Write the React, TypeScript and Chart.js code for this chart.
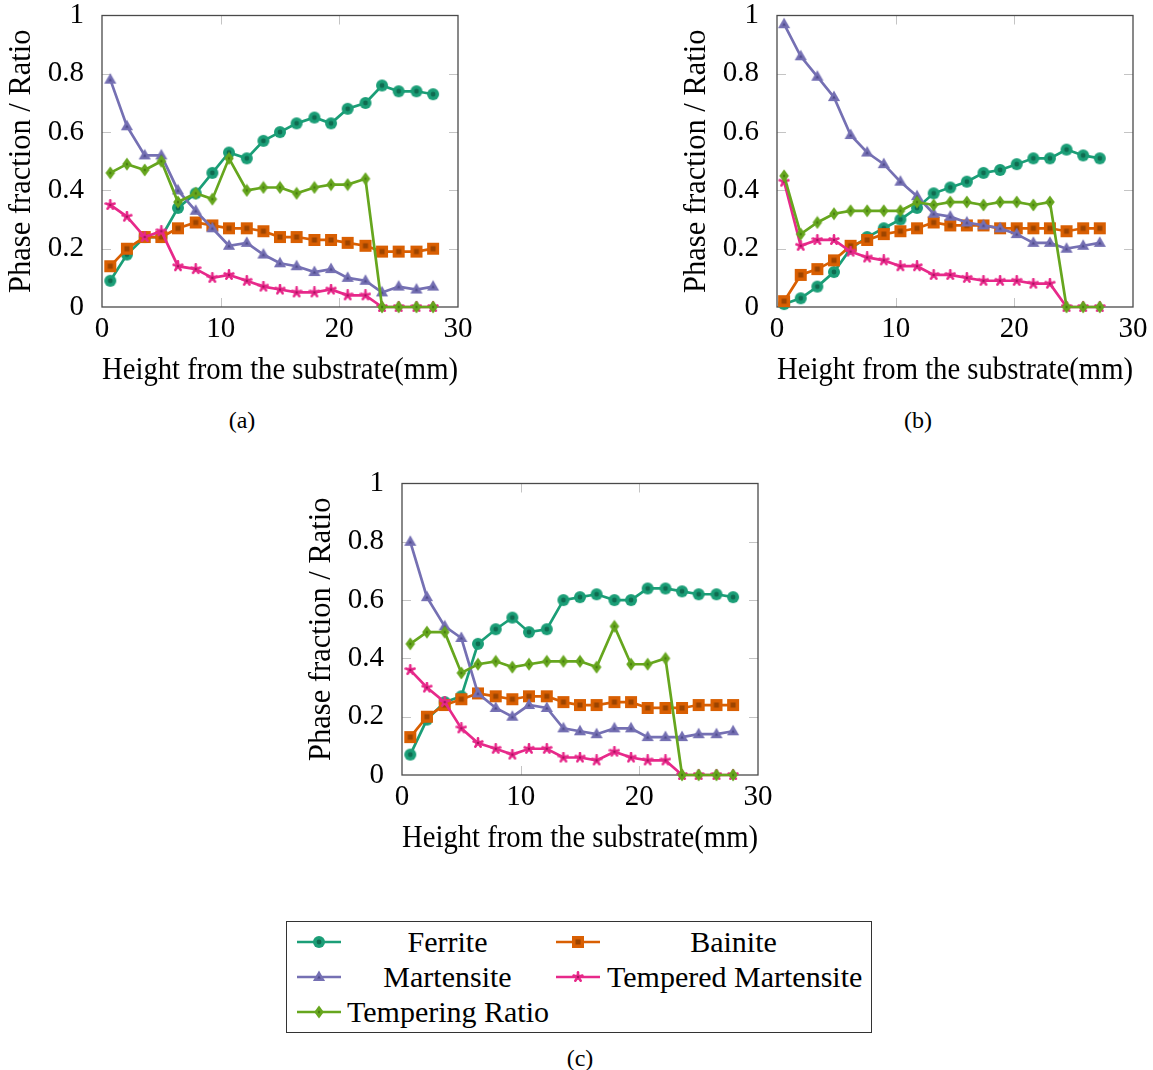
import React, { useEffect, useRef } from "react";
import { Chart, registerables } from "chart.js";

Chart.register(...registerables);

// ---------------- data ----------------
const heightsA = [0.7, 2.1, 3.6, 5.0, 6.4, 7.9, 9.3, 10.7, 12.2, 13.6, 15.0, 16.4, 17.9, 19.3, 20.7, 22.2, 23.6, 25.0, 26.5, 27.9];
const ferriteA = [0.09, 0.18, 0.24, 0.24, 0.34, 0.39, 0.46, 0.53, 0.51, 0.57, 0.60, 0.63, 0.65, 0.63, 0.68, 0.70, 0.76, 0.74, 0.74, 0.73];
const bainiteA = [0.14, 0.20, 0.24, 0.24, 0.27, 0.29, 0.28, 0.27, 0.27, 0.26, 0.24, 0.24, 0.23, 0.23, 0.22, 0.21, 0.19, 0.19, 0.19, 0.20];
const martensiteA = [0.78, 0.62, 0.52, 0.52, 0.40, 0.33, 0.27, 0.21, 0.22, 0.18, 0.15, 0.14, 0.12, 0.13, 0.10, 0.09, 0.05, 0.07, 0.06, 0.07];
const temperedA = [0.35, 0.31, 0.24, 0.26, 0.14, 0.13, 0.10, 0.11, 0.09, 0.07, 0.06, 0.05, 0.05, 0.06, 0.04, 0.04, 0, 0, 0, 0];
const ratioA = [0.46, 0.49, 0.47, 0.50, 0.36, 0.39, 0.37, 0.51, 0.40, 0.41, 0.41, 0.39, 0.41, 0.42, 0.42, 0.44, 0, 0, 0, 0];

const heightsB = [0.6, 2.0, 3.4, 4.8, 6.2, 7.6, 9.0, 10.4, 11.8, 13.2, 14.6, 16.0, 17.4, 18.8, 20.2, 21.6, 23.0, 24.4, 25.8, 27.2];
const ferriteB = [0.01, 0.03, 0.07, 0.12, 0.20, 0.24, 0.27, 0.30, 0.34, 0.39, 0.41, 0.43, 0.46, 0.47, 0.49, 0.51, 0.51, 0.54, 0.52, 0.51];
const bainiteB = [0.02, 0.11, 0.13, 0.16, 0.21, 0.23, 0.25, 0.26, 0.27, 0.29, 0.28, 0.28, 0.28, 0.27, 0.27, 0.27, 0.27, 0.26, 0.27, 0.27];
const martensiteB = [0.97, 0.86, 0.79, 0.72, 0.59, 0.53, 0.49, 0.43, 0.38, 0.32, 0.31, 0.29, 0.28, 0.27, 0.25, 0.22, 0.22, 0.20, 0.21, 0.22];
const temperedB = [0.43, 0.21, 0.23, 0.23, 0.19, 0.17, 0.16, 0.14, 0.14, 0.11, 0.11, 0.10, 0.09, 0.09, 0.09, 0.08, 0.08, 0, 0, 0];
const ratioB = [0.45, 0.25, 0.29, 0.32, 0.33, 0.33, 0.33, 0.33, 0.36, 0.35, 0.36, 0.36, 0.35, 0.36, 0.36, 0.35, 0.36, 0, 0, 0];

const heightsC = [0.7, 2.1, 3.6, 5.0, 6.4, 7.9, 9.3, 10.7, 12.2, 13.6, 15.0, 16.4, 17.9, 19.3, 20.7, 22.2, 23.6, 25.0, 26.5, 27.9];
const ferriteC = [0.07, 0.19, 0.25, 0.27, 0.45, 0.50, 0.54, 0.49, 0.50, 0.60, 0.61, 0.62, 0.60, 0.60, 0.64, 0.64, 0.63, 0.62, 0.62, 0.61];
const bainiteC = [0.13, 0.20, 0.24, 0.26, 0.28, 0.27, 0.26, 0.27, 0.27, 0.25, 0.24, 0.24, 0.25, 0.25, 0.23, 0.23, 0.23, 0.24, 0.24, 0.24];
const martensiteC = [0.80, 0.61, 0.51, 0.47, 0.28, 0.23, 0.20, 0.24, 0.23, 0.16, 0.15, 0.14, 0.16, 0.16, 0.13, 0.13, 0.13, 0.14, 0.14, 0.15];
const temperedC = [0.36, 0.30, 0.25, 0.16, 0.11, 0.09, 0.07, 0.09, 0.09, 0.06, 0.06, 0.05, 0.08, 0.06, 0.05, 0.05, 0, 0, 0, 0];
const ratioC = [0.45, 0.49, 0.49, 0.35, 0.38, 0.39, 0.37, 0.38, 0.39, 0.39, 0.39, 0.37, 0.51, 0.38, 0.38, 0.40, 0, 0, 0, 0];

const seriesLabels = ["Ferrite", "Bainite", "Martensite", "Tempered Martensite", "Tempering Ratio"];
const xTickValues = [0, 10, 20, 30];
const yTickValues = [0, 0.2, 0.4, 0.6, 0.8, 1];
const xTitle = "Height from the substrate(mm)";
const yTitle = "Phase fraction / Ratio";

// ---------------- styles ----------------
const FONT = "'Liberation Serif', 'Times New Roman', serif";
const STYLES = [
  { kind: "circle", color: "#1b9e77", dark: "#0f6b50", order: 4 },
  { kind: "square", color: "#d95f02", dark: "#9c4400", order: 3 },
  { kind: "triangle", color: "#7570b3", dark: "#4f4a8c", order: 2 },
  { kind: "star", color: "#e7298a", dark: "#a8135f", order: 1 },
  { kind: "diamond", color: "#66a61e", dark: "#437510", order: 0 },
];

function makeMarker(kind: string, color: string, dark: string): HTMLCanvasElement {
  const c = document.createElement("canvas");
  let ctx: CanvasRenderingContext2D;
  if (kind === "circle") {
    c.width = 14; c.height = 14;
    ctx = c.getContext("2d")!;
    ctx.fillStyle = color;
    ctx.beginPath(); ctx.arc(7, 7, 6, 0, Math.PI * 2); ctx.fill();
    ctx.fillStyle = dark;
    ctx.beginPath(); ctx.arc(7, 7, 2.4, 0, Math.PI * 2); ctx.fill();
  } else if (kind === "square") {
    c.width = 14; c.height = 14;
    ctx = c.getContext("2d")!;
    ctx.fillStyle = color;
    ctx.fillRect(1, 1, 12, 12);
    ctx.fillStyle = dark;
    ctx.fillRect(4.5, 4.5, 5, 5);
  } else if (kind === "triangle") {
    c.width = 16; c.height = 16;
    ctx = c.getContext("2d")!;
    const cx = 8, cy = 8.5, r = 7;
    const pts = [0, 1, 2].map((i) => {
      const a = -Math.PI / 2 + (i * 2 * Math.PI) / 3;
      return [cx + r * Math.cos(a), cy + r * Math.sin(a)];
    });
    ctx.fillStyle = color;
    ctx.beginPath(); ctx.moveTo(pts[0][0], pts[0][1]); ctx.lineTo(pts[1][0], pts[1][1]); ctx.lineTo(pts[2][0], pts[2][1]); ctx.closePath(); ctx.fill();
    ctx.fillStyle = dark;
    const s = 0.3;
    ctx.beginPath();
    pts.forEach((p, i) => {
      const px = cx + (p[0] - cx) * s, py = cy + (p[1] - cy) * s;
      if (i === 0) ctx.moveTo(px, py); else ctx.lineTo(px, py);
    });
    ctx.closePath(); ctx.fill();
  } else if (kind === "diamond") {
    c.width = 12; c.height = 14;
    ctx = c.getContext("2d")!;
    ctx.fillStyle = color;
    ctx.beginPath(); ctx.moveTo(6, 0.5); ctx.lineTo(10.8, 7); ctx.lineTo(6, 13.5); ctx.lineTo(1.2, 7); ctx.closePath(); ctx.fill();
    ctx.fillStyle = dark;
    ctx.beginPath(); ctx.moveTo(6, 5.3); ctx.lineTo(7.2, 7); ctx.lineTo(6, 8.7); ctx.lineTo(4.8, 7); ctx.closePath(); ctx.fill();
  } else {
    c.width = 12; c.height = 12;
    ctx = c.getContext("2d")!;
    ctx.strokeStyle = color;
    ctx.lineWidth = 2.6;
    ctx.lineCap = "round";
    for (let i = 0; i < 5; i++) {
      const a = -Math.PI / 2 + (i * 2 * Math.PI) / 5;
      ctx.beginPath(); ctx.moveTo(6, 6); ctx.lineTo(6 + 4.6 * Math.cos(a), 6 + 4.6 * Math.sin(a)); ctx.stroke();
    }
    ctx.fillStyle = color;
    ctx.beginPath(); ctx.arc(6, 6, 2.8, 0, Math.PI * 2); ctx.fill();
    ctx.fillStyle = dark;
    ctx.beginPath(); ctx.arc(6, 6, 1.3, 0, Math.PI * 2); ctx.fill();
  }
  return c;
}

const framePlugin = {
  id: "pgfFrame",
  beforeDatasetsDraw(chart: any) {
    const { ctx, chartArea: a, scales } = chart;
    const x = scales.x, y = scales.y;
    ctx.save();
    ctx.strokeStyle = "#c4c4c4";
    ctx.lineWidth = 1;
    const L = 9;
    xTickValues.slice(1, -1).forEach((v) => {
      const px = Math.round(x.getPixelForValue(v)) + 0.5;
      ctx.beginPath(); ctx.moveTo(px, a.top); ctx.lineTo(px, a.top + L); ctx.stroke();
      ctx.beginPath(); ctx.moveTo(px, a.bottom); ctx.lineTo(px, a.bottom - L); ctx.stroke();
    });
    yTickValues.slice(1, -1).forEach((v) => {
      const py = Math.round(y.getPixelForValue(v)) + 0.5;
      ctx.beginPath(); ctx.moveTo(a.left, py); ctx.lineTo(a.left + L, py); ctx.stroke();
      ctx.beginPath(); ctx.moveTo(a.right, py); ctx.lineTo(a.right - L, py); ctx.stroke();
    });
    ctx.strokeStyle = "#4a4a4a";
    ctx.lineWidth = 1.3;
    ctx.strokeRect(a.left, a.top, a.right - a.left, a.bottom - a.top);
    ctx.restore();
  },
};

type PanelProps = {
  heights: number[];
  series: number[][];
  left: number;
  top: number;
};

function Panel({ heights, series, left, top }: PanelProps) {
  const ref = useRef<HTMLCanvasElement>(null);
  useEffect(() => {
    const datasets = series.map((vals, si) => {
      const st = STYLES[si];
      return {
        label: seriesLabels[si],
        data: heights.map((h, i) => ({ x: h, y: vals[i] })),
        borderColor: st.color,
        backgroundColor: st.color,
        borderWidth: 2.7,
        pointStyle: makeMarker(st.kind, st.color, st.dark),
        pointRadius: 6,
        pointHoverRadius: 6,
        tension: 0,
        order: st.order,
        clip: false,
      };
    });
    const tickFont = { family: FONT, size: 29, lineHeight: "31px" };
    const titleFont = { family: FONT, size: 30.5 };
    const chart = new Chart(ref.current!, {
      type: "line",
      data: { datasets } as any,
      plugins: [framePlugin],
      options: {
        responsive: false,
        animation: false,
        events: [],
        layout: { padding: { left: 0, right: 22, top: 15.5, bottom: 0 } },
        plugins: { legend: { display: false }, tooltip: { enabled: false } },
        scales: {
          x: {
            type: "linear",
            min: 0,
            max: 30,
            afterFit: (s: any) => { s.height = 93; s.paddingTop = 0; s.paddingBottom = 0; },
            afterBuildTicks: (s: any) => { s.ticks = xTickValues.map((v) => ({ value: v })); },
            ticks: { font: tickFont, color: "#000", padding: 7, maxRotation: 0, autoSkip: false },
            grid: { display: false, drawTicks: false, tickLength: 0 },
            border: { display: false },
            title: { display: true, text: xTitle, font: titleFont, color: "#000", padding: { top: 0, bottom: 11 } },
          },
          y: {
            type: "linear",
            min: 0,
            max: 1,
            afterFit: (s: any) => { s.width = 102; s.paddingTop = 0; s.paddingBottom = 0; },
            afterBuildTicks: (s: any) => { s.ticks = yTickValues.map((v) => ({ value: v })); },
            ticks: {
              font: tickFont,
              color: "#000",
              padding: 18,
              callback: (v: any) => String(Math.round(Number(v) * 10) / 10),
            },
            grid: { display: false, drawTicks: false, tickLength: 0 },
            border: { display: false },
            title: { display: true, text: yTitle, font: titleFont, color: "#000", padding: { top: 4, bottom: 0 } },
          },
        },
      } as any,
    });
    return () => chart.destroy();
  }, []);
  return (
    <canvas
      ref={ref}
      width={480}
      height={400}
      style={{ position: "absolute", left, top, width: 480, height: 400 }}
    />
  );
}

function Swatch({ index, left, top }: { index: number; left: number; top: number }) {
  const ref = useRef<HTMLCanvasElement>(null);
  useEffect(() => {
    const c = ref.current!;
    const ctx = c.getContext("2d")!;
    const st = STYLES[index];
    ctx.clearRect(0, 0, c.width, c.height);
    ctx.strokeStyle = st.color;
    ctx.lineWidth = 2.7;
    ctx.beginPath(); ctx.moveTo(0, 10); ctx.lineTo(44, 10); ctx.stroke();
    const m = makeMarker(st.kind, st.color, st.dark);
    ctx.drawImage(m, 22 - m.width / 2, 10 - m.height / 2);
  }, []);
  return <canvas ref={ref} width={44} height={20} style={{ position: "absolute", left, top, width: 44, height: 20 }} />;
}

const textStyle: React.CSSProperties = {
  position: "absolute",
  fontFamily: FONT,
  fontSize: 30,
  lineHeight: "34px",
  color: "#000",
  textAlign: "center",
  whiteSpace: "nowrap",
};

export default function App() {
  // legend layout: [series index, column, row]
  const legendCells: [number, number, number][] = [
    [0, 0, 0],
    [1, 1, 0],
    [2, 0, 1],
    [3, 1, 1],
    [4, 0, 2],
  ];
  const colSwatchX = [297, 556];
  const colTextX = [347, 607];
  const colTextW = [201, 253];
  const rowY = [942, 977, 1012];
  return (
    <div style={{ position: "absolute", left: 0, top: 0, width: 1153, height: 1070, overflow: "hidden", background: "#fff" }}>
      <Panel heights={heightsA} series={[ferriteA, bainiteA, martensiteA, temperedA, ratioA]} left={0} top={0} />
      <Panel heights={heightsB} series={[ferriteB, bainiteB, martensiteB, temperedB, ratioB]} left={675} top={0} />
      <Panel heights={heightsC} series={[ferriteC, bainiteC, martensiteC, temperedC, ratioC]} left={300} top={468} />

      <div style={{ ...textStyle, fontSize: 24, left: 212, top: 403, width: 60 }}>(a)</div>
      <div style={{ ...textStyle, fontSize: 24, left: 888, top: 403, width: 60 }}>(b)</div>
      <div style={{ ...textStyle, fontSize: 24, left: 550, top: 1041, width: 60 }}>(c)</div>

      <div style={{ position: "absolute", left: 286, top: 921, width: 586, height: 112, border: "1.3px solid #333", boxSizing: "border-box" }} />
      {legendCells.map(([si, col, row]) => (
        <React.Fragment key={si}>
          <Swatch index={si} left={colSwatchX[col]} top={rowY[row] - 10} />
          <div style={{ ...textStyle, left: colTextX[col], top: rowY[row] - 17, width: colTextW[col] }}>{seriesLabels[si]}</div>
        </React.Fragment>
      ))}
    </div>
  );
}
